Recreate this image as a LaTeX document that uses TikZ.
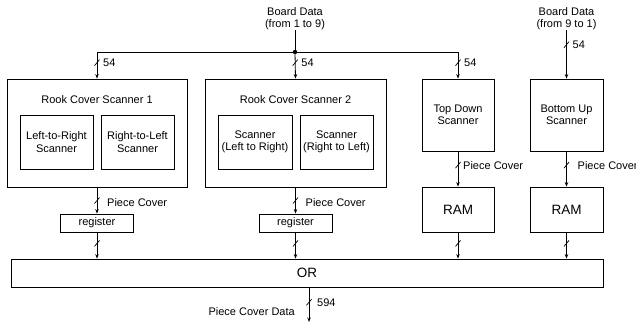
\documentclass[tikz,border=0pt]{standalone}
\usepackage{fontspec}
\setmainfont{Liberation Sans}
\usetikzlibrary{arrows.meta,calc}
\tikzset{
  base/.style={font=\fontsize{11}{12.5}\selectfont},
  blk/.style={base, draw, line width=0.8pt, inner sep=0pt, align=center},
  big/.style={font=\fontsize{13.5}{15}\selectfont},
  wire/.style={line width=0.8pt},
  arr/.style={wire, -{Stealth[length=4.5pt,width=3.5pt]}},
  lbl/.style={base, inner sep=0pt},
  tick/.style={line width=0.7pt}
}
\newcommand{\busmark}[1]{\draw[tick] (#1) +(-2.5,3) -- +(2.5,-3);}
\begin{document}
\begin{tikzpicture}[x=1pt,y=-1pt]
\useasboundingbox (0,0) rectangle (636,327);

% scanner blocks
\node[blk, minimum width=180, minimum height=108] (rcs1) at (97,133) {};
\node[base, anchor=base] at (97,103) {Rook Cover Scanner 1};
\node[blk, minimum width=73, minimum height=54] (l2r) at (56.5,142) {Left-to-Right\\Scanner};
\node[blk, minimum width=73, minimum height=54] (r2l) at (137.5,142) {Right-to-Left\\Scanner};

\node[blk, minimum width=181, minimum height=108] (rcs2) at (295.5,133) {};
\node[base, anchor=base] at (295.5,103) {Rook Cover Scanner 2};
\node[blk, minimum width=74, minimum height=54] (sl2r) at (255,142) {Scanner\\(Left to Right)};
\node[blk, minimum width=73, minimum height=54] (sr2l) at (336.5,142) {Scanner\\(Right to Left)};

\node[blk, minimum width=72, minimum height=72] (td) at (458,115) {Top Down\\Scanner};
\node[blk, minimum width=73, minimum height=72] (bu) at (566.5,115) {Bottom Up\\Scanner};

% storage
\node[blk, big, minimum width=72, minimum height=45] (ram1) at (458,209.5) {RAM};
\node[blk, big, minimum width=73, minimum height=45] (ram2) at (566.5,209.5) {RAM};
\node[blk, minimum width=73, minimum height=18] (reg1) at (97,223) {register};
\node[blk, minimum width=73, minimum height=18] (reg2) at (295.5,223) {register};

% combining stage
\node[blk, big, minimum width=592, minimum height=28] (or) at (307,273) {OR};

% board data inputs
\node[lbl, align=center] (bd1) at (295,18.5) {Board Data\\(from 1 to 9)};
\node[lbl, align=center] (bd2) at (566.5,18.5) {Board Data\\(from 9 to 1)};

\coordinate (j) at (295,52);
\coordinate (jl) at (97,52);
\coordinate (jr) at (458,52);
\draw[wire] (bd1.south) -- (j);
\draw[wire] (jl) -- (jr);
\fill (j) circle (2.2);

\draw[arr] (jl) -- coordinate[pos=0.4] (m1) (rcs1.north);
\draw[arr] (j) -- coordinate[pos=0.4] (m2) (rcs2.north);
\draw[arr] (jr) -- coordinate[pos=0.4] (m3) (td.north);
\draw[arr] (bd2.south) -- coordinate[pos=0.3] (m4) (bu.north);
\foreach \m in {m1,m2,m3,m4} {
  \busmark{\m}
  \node[lbl, anchor=west] at ([xshift=6]\m) {54};
}

% piece cover paths
\draw[arr] (rcs1.south) -- coordinate[pos=0.5] (p1) (reg1.north);
\draw[arr] (rcs2.south) -- coordinate[pos=0.5] (p2) (reg2.north);
\draw[arr] (td.south) -- coordinate[pos=0.39] (p3) (ram1.north);
\draw[arr] (bu.south) -- coordinate[pos=0.39] (p4) (ram2.north);
\busmark{p1} \busmark{p2} \busmark{p3} \busmark{p4}
\node[lbl, anchor=west] at ([xshift=10,yshift=-2]p1) {Piece Cover};
\node[lbl, anchor=west] at ([xshift=10,yshift=-2]p2) {Piece Cover};
\node[lbl, anchor=west] at ([xshift=5]p3) {Piece Cover};
\node[lbl, anchor=west] at ([xshift=11]p4) {Piece Cover};

% into the OR stage
\draw[arr] (reg1.south) -- coordinate[pos=0.42] (q1) (or.north -| reg1.south);
\draw[arr] (reg2.south) -- coordinate[pos=0.42] (q2) (or.north -| reg2.south);
\draw[arr] (ram1.south) -- coordinate[pos=0.42] (q3) (or.north -| ram1.south);
\draw[arr] (ram2.south) -- coordinate[pos=0.42] (q4) (or.north -| ram2.south);
\busmark{q1} \busmark{q2} \busmark{q3} \busmark{q4}

% output
\coordinate (out) at (309,322);
\draw[arr] (or.south -| out) -- coordinate[pos=0.43] (o1) (out);
\busmark{o1}
\node[lbl, anchor=west] at ([xshift=8]o1) {594};
\node[lbl, anchor=east] at ([xshift=-14,yshift=-9]o1) {Piece Cover Data};
\end{tikzpicture}
\end{document}
